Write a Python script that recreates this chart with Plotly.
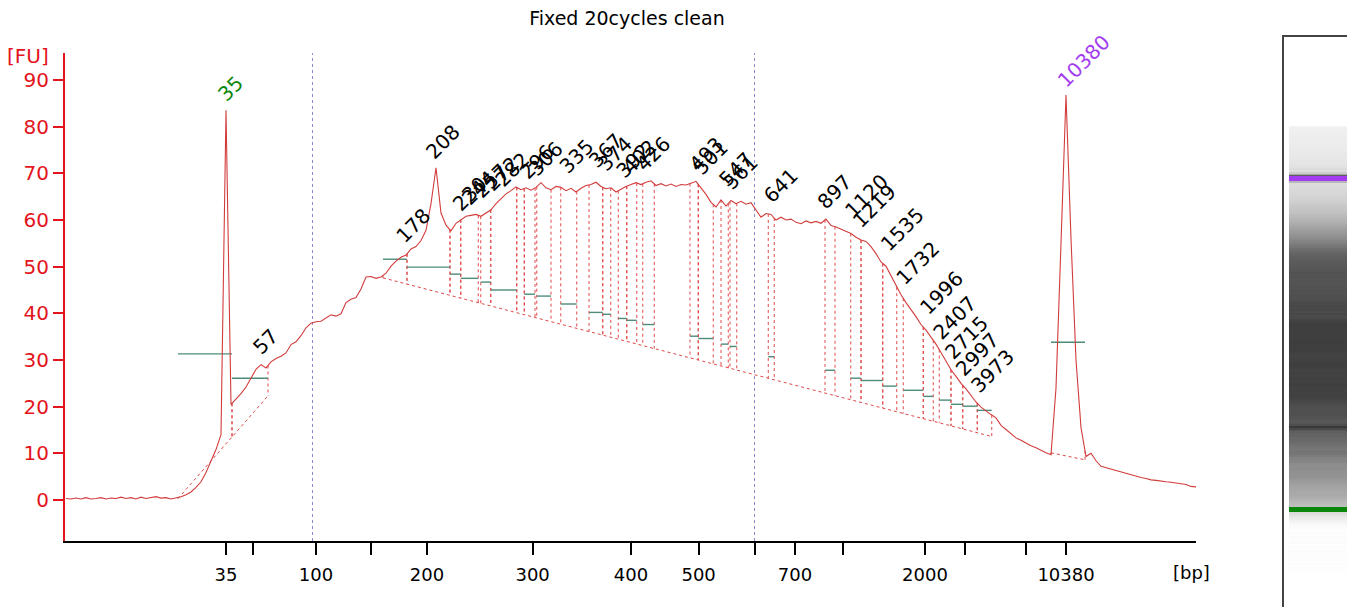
import numpy as np
import plotly.graph_objects as go

# ---------------- data ----------------
# migration time grid (s): t = trace_t0 + trace_dt * i
trace_t0 = 30.0
trace_dt = 0.4
trace_fu = [
    0.3, 0.2, 0.4, 0.2, 0.5, 0.2, 0.3, 0.5, 0.2, 0.4, 0.3, 0.6, 0.3, 0.5, 0.2, 0.6, 0.3, 0.5, 0.7, 0.4,
    0.5, 0.2, 0.4, 0.7, 1.1, 1.7, 2.7, 3.9, 5.9, 8.2, 10.8, 14.0, 83.5, 20.5,
    21.6, 22.8, 24.2, 26.0, 28.0, 29.0, 28.3, 29.6, 30.3, 30.8, 31.5, 33.3, 33.9, 35.2, 36.9, 37.9,
    38.2, 38.3, 39.0, 39.7, 39.4, 39.9, 42.3, 43.0, 43.4, 45.2, 47.8, 47.9, 47.5, 47.8, 48.6, 50.1,
    51.2, 52.0, 52.5, 53.8, 54.3, 55.6, 57.8, 63.5, 71.2, 61.5, 58.9, 57.7, 59.3, 60.1, 60.8, 61.0, 61.2,
    60.8, 61.5, 62.2, 63.5, 64.6, 65.6, 66.3, 67.1, 66.5, 66.9, 66.4, 67.0, 68.0, 66.9, 66.5, 67.2,
    67.0, 66.3, 66.8, 66.0, 66.8, 67.4, 67.6, 68.1, 67.2, 66.7, 66.9, 66.0, 66.6, 67.2, 67.6, 68.0,
    67.6, 68.1, 68.4, 67.4, 67.8, 67.3, 67.7, 67.2, 67.6, 67.5, 67.9, 68.3, 66.9, 65.5, 63.8, 62.8,
    64.3, 63.0, 64.2, 63.5, 64.0, 63.4, 63.7, 62.0, 60.6, 61.4, 61.2, 60.0, 60.6, 60.0, 60.2, 59.5,
    59.2, 59.8, 59.4, 59.7, 59.3, 60.2, 58.8, 58.5, 58.0, 57.6, 57.1, 56.3, 55.7, 55.4, 54.3, 52.8,
    51.0, 50.1, 48.0, 45.9, 44.0, 42.3, 40.9, 39.3, 37.6, 36.4, 34.9, 33.4, 31.6, 29.8, 27.9, 26.5,
    25.0, 23.8, 22.4, 21.0, 19.9, 19.0, 18.3, 17.6, 16.0, 15.1, 14.2, 13.3, 12.8, 12.2, 11.6, 11.2,
    10.6, 10.1, 9.7, 24.0, 55.0, 86.8, 56.0, 30.0, 15.5, 9.3, 10.0, 8.4, 7.2, 6.9, 6.5, 6.2,
    5.9, 5.6, 5.3, 5.1, 4.8, 4.6, 4.3, 4.2, 4.0, 3.9, 3.8, 3.6, 3.5, 3.3, 2.9, 2.8,
]

tick_time = [42.8, 44.96, 50.0, 54.36, 58.88, 67.33, 75.2, 80.61, 85.12, 88.32, 92.16, 98.72, 101.92, 106.78, 110.0]
tick_label = ["35", "", "100", "", "200", "300", "400", "500", "", "700", "", "2000", "", "", "10380"]
fu_ticks = [0, 10, 20, 30, 40, 50, 60, 70, 80, 90]

region_time = [49.72, 85.08]          # blue dotted region markers
marker_time = [42.8, 110.0]           # lower / upper marker
marker_color = ["#0a860a", "#a33cf0"]

peak_label = ["35", "57", "178", "208", "230", "244", "257", "272", "282", "296", "306", "335",
              "367", "374", "392", "402", "426", "493", "501", "547", "561", "641", "897",
              "1120", "1219", "1535", "1732", "1996", "2407", "2715", "2997", "3973", "10380"]
peak_start = [38.96, 43.28, 55.36, 57.28, 60.72, 61.58, 63.18, 63.98, 66.06, 66.66, 67.66, 69.58,
              71.84, 72.94, 74.18, 74.86, 76.14, 79.92, 80.58, 82.40, 83.12, 86.18, 90.72,
              92.78, 93.60, 95.34, 96.98, 98.58, 99.86, 100.80, 101.74, 102.90, 108.80]
peak_end = [43.28, 46.16, 57.28, 60.72, 61.58, 62.98, 63.98, 66.06, 66.66, 67.52, 68.80, 70.86,
            72.94, 73.58, 74.86, 75.66, 77.06, 80.58, 81.78, 82.98, 83.66, 86.66, 91.52,
            93.60, 95.34, 96.46, 98.58, 99.38, 100.80, 101.74, 102.90, 104.06, 111.52]
peak_green = [31.3, 26.1, 51.6, 49.9, 48.4, 47.5, 46.7, 45.0, None, 44.1, 43.7, 42.0,
              40.2, 39.8, 38.9, 38.5, 37.6, 35.1, 34.6, 33.4, 32.9, 30.7, 27.8,
              26.1, 25.6, 24.4, 23.5, 22.2, 21.4, 20.5, 20.1, 19.2, 33.8]
label_t = [42.32, 45.12, 56.56, 58.96, 61.12, 61.84, 62.80, 63.68, 64.48, 66.48, 67.20, 69.66,
           72.06, 72.72, 74.18, 74.72, 75.78, 80.06, 80.46, 82.46, 82.86, 86.06, 90.32,
           92.46, 93.12, 95.38, 96.58, 98.46, 99.52, 100.46, 101.38, 102.58, 109.52]
label_fu = [85.3, 31.0, 55.0, 72.9, 61.7, 63.0, 64.5, 66.0, 67.0, 68.6, 69.2, 70.0,
            71.1, 70.4, 68.9, 69.6, 70.4, 70.4, 69.6, 67.1, 66.4, 63.6, 62.1,
            60.4, 58.2, 53.2, 46.1, 39.6, 34.3, 30.0, 26.4, 22.9, 88.3]
label_color = ["#0a860a"] + ["black"] * 31 + ["#a33cf0"]

# baselines drawn by the software (start/end)
baseline_t = [[38.96, 46.16], [55.36, 104.06], [108.80, 111.52]]
baseline_fu = [[0.3, 22.3], [47.6, 13.6], [10.1, 8.6]]

# ---------------- figure ----------------
trace_t = trace_t0 + trace_dt * np.arange(len(trace_fu))
trace_fu_arr = np.array(trace_fu)

RED = "#e3141c"
TRACE = "#d23c3c"
DOT = "#e04848"
GREENLINE = "#4d8c7a"
FONT = "DejaVu Sans"


def base_at(t):
    for bt, bf in zip(baseline_t, baseline_fu):
        if bt[0] - 1e-6 <= t <= bt[1] + 1e-6:
            return np.interp(t, bt, bf)
    return None


fig = go.Figure()

# region markers
rx, ry = [], []
for rt in region_time:
    rx += [rt, rt, None]
    ry += [-8.8, 95.8, None]
fig.add_trace(go.Scatter(x=rx, y=ry, mode="lines",
                         line=dict(color="#8a8ad0", width=1, dash="dot"), hoverinfo="skip"))

# dotted baselines and boundary verticals
dx, dy = [], []
for bt, bf in zip(baseline_t, baseline_fu):
    dx += [bt[0], bt[1], None]
    dy += [bf[0], bf[1], None]
for s, e in zip(peak_start, peak_end):
    for b in (s, e):
        top = float(np.interp(b, trace_t, trace_fu_arr))
        bot = base_at(b)
        if bot is not None:
            dx += [b, b, None]
            dy += [top, bot, None]
fig.add_trace(go.Scatter(x=dx, y=dy, mode="lines",
                         line=dict(color=DOT, width=1, dash="dot"), hoverinfo="skip"))

# green peak lines
gx, gy = [], []
for s, e, g in zip(peak_start, peak_end, peak_green):
    if g is None:
        continue
    gx += [s, e, None]
    gy += [g, g, None]
fig.add_trace(go.Scatter(x=gx, y=gy, mode="lines",
                         line=dict(color=GREENLINE, width=1.4), hoverinfo="skip"))

# electropherogram trace
fig.add_trace(go.Scatter(x=trace_t, y=trace_fu_arr, mode="lines",
                         line=dict(color=TRACE, width=1.1), hoverinfo="skip"))

# peak labels
for lab, lt, lf, lc in zip(peak_label, label_t, label_fu, label_color):
    fig.add_annotation(x=lt, y=lf, xref="x", yref="y", text=lab, showarrow=False,
                       textangle=-45, xanchor="left", yanchor="bottom",
                       xshift=-10, yshift=-7,
                       font=dict(family=FONT, size=20, color=lc))

# gel lane (intensity = trace)
gel_scale = [[0.0, "rgb(255,255,255)"], [0.0125, "rgb(249,249,249)"], [0.0375, "rgb(240,240,240)"],
             [0.125, "rgb(220,220,220)"], [0.3125, "rgb(180,180,180)"], [0.5, "rgb(140,140,140)"],
             [0.625, "rgb(110,110,110)"], [0.75, "rgb(82,82,82)"], [0.85, "rgb(62,62,62)"],
             [1.0, "rgb(45,45,45)"]]
fig.add_trace(go.Heatmap(z=[[v] for v in trace_fu], y=trace_t, x0=0.5, dx=1,
                         xaxis="x2", yaxis="y2", colorscale=gel_scale, zmin=0, zmax=80,
                         showscale=False, hoverinfo="skip"))
for mt, mc in zip(marker_time, marker_color):
    fig.add_trace(go.Scatter(x=[0, 1], y=[mt, mt], mode="lines", xaxis="x2", yaxis="y2",
                             line=dict(color=mc, width=5), hoverinfo="skip"))

# the page body has an 8px margin; the figure is sized so that it still fills the window
fig.update_layout(
    width=1347, height=599,
    margin=dict(l=57, r=0, t=29, b=0),
    paper_bgcolor="white", plot_bgcolor="white",
    showlegend=False,
    font=dict(family=FONT),
    title=dict(text="Fixed 20cycles clean", xref="container", yref="container",
               x=0.4595, y=0.982, xanchor="center", yanchor="middle",
               font=dict(family=FONT, size=19, color="black")),
    xaxis=dict(domain=[0, 0.876744], range=[29.92, 120.4], anchor="y",
               showline=True, linecolor="black", linewidth=2,
               ticks="outside", ticklen=12, tickwidth=2, tickcolor="black",
               tickmode="array", tickvals=tick_time, ticktext=tick_label,
               tickfont=dict(family=FONT, size=18, color="black"),
               showgrid=False, zeroline=False, ticklabelstandoff=4),
    yaxis=dict(domain=[0.115789, 0.971930], range=[-8.8, 95.8], anchor="x",
               showline=True, linecolor=RED, linewidth=2,
               ticks="outside", ticklen=10, tickwidth=2, tickcolor=RED,
               tickmode="array", tickvals=fu_ticks,
               tickfont=dict(family=FONT, size=20, color=RED),
               showgrid=False, zeroline=False),
    xaxis2=dict(domain=[0.944961, 1.0], range=[-0.078, 1.031], anchor="y2",
                side="top", showline=True, linecolor="#444444", linewidth=1.5, mirror=False,
                showticklabels=False, ticks="", showgrid=False, zeroline=False),
    yaxis2=dict(domain=[0, 1], range=[23.01, 138.72], anchor="x2",
                showline=True, linecolor="#444444", linewidth=1.5, mirror=False,
                showticklabels=False, ticks="", showgrid=False, zeroline=False),
)

fig.add_annotation(text="[FU]", xref="paper", yref="paper", x=-0.02868, y=0.96667,
                   xanchor="center", yanchor="middle", showarrow=False,
                   font=dict(family=FONT, size=20, color=RED))
fig.add_annotation(text="[bp]", xref="paper", yref="paper", x=0.87364, y=0.05965,
                   xanchor="center", yanchor="middle", showarrow=False,
                   font=dict(family=FONT, size=18, color="black"))

fig.write_html("out.html")
